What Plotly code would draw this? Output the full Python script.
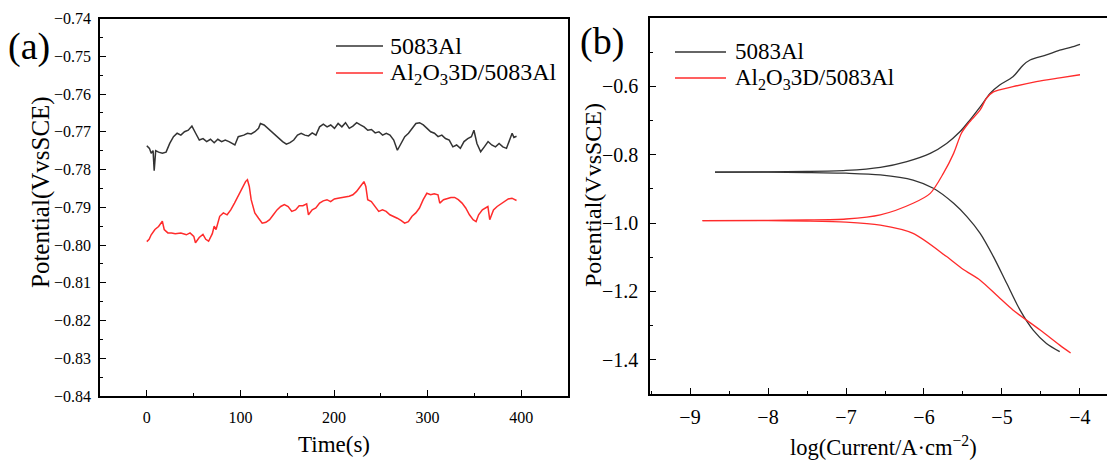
import plotly.graph_objects as go

# ---------------- (a) open-circuit potential vs time ----------------
t_5083 = [0, 2.8, 4.7, 6.7, 7.9, 9.5, 12.6, 16.6, 20.6, 24.5, 28.5, 32.4, 36.4, 40.3, 44.3,
          48.2, 52.2, 56.1, 60.1, 64, 68, 72, 75.9, 79.9, 83.8, 87.8, 94.1, 97.7, 103.6,
          107.6, 111.5, 115.5, 119.4, 121.4, 125.3, 129.3, 133.3, 137.2, 141.2, 145.1,
          149.1, 153, 157, 161, 164.9, 168.9, 172.8, 176.7, 180.7, 184.6, 188.6, 192.6,
          196.5, 200.5, 204.4, 208.4, 212.3, 216.3, 220.2, 224.2, 228.2, 232.1, 236.1,
          240, 244, 248, 251.9, 255.9, 259.8, 263.8, 267.7, 271.6, 275.6, 279.6, 283.5,
          287.5, 291.4, 295.4, 299.4, 303.3, 307.3, 311.2, 315.2, 319.1, 323.1, 327, 331,
          335, 338.9, 342.9, 346.8, 349.5, 352.7, 356.7, 360.6, 364.6, 368.5, 372.5,
          376.4, 380.4, 384.3, 388.3, 390.3, 392.2, 395]
v_5083 = [-0.7737, -0.7744, -0.7757, -0.7750, -0.7803, -0.7750, -0.7754, -0.7757, -0.7754,
          -0.7731, -0.7713, -0.7704, -0.7709, -0.7700, -0.7696, -0.7685, -0.7704, -0.7722,
          -0.7718, -0.7726, -0.7720, -0.7729, -0.7720, -0.7726, -0.7722, -0.7726, -0.7735,
          -0.7713, -0.7709, -0.7704, -0.7706, -0.7700, -0.7691, -0.7678, -0.7682, -0.7691,
          -0.7700, -0.7709, -0.7718, -0.7726, -0.7733, -0.7729, -0.7722, -0.7709, -0.7704,
          -0.7709, -0.7711, -0.7703, -0.7709, -0.7687, -0.7680, -0.7687, -0.7682, -0.7691,
          -0.7678, -0.7687, -0.7676, -0.7691, -0.7685, -0.7676, -0.7682, -0.7687, -0.7696,
          -0.7694, -0.7703, -0.7700, -0.7709, -0.7704, -0.7709, -0.7722, -0.7749, -0.7731,
          -0.7713, -0.7704, -0.7691, -0.7678, -0.7676, -0.7682, -0.7691, -0.7700, -0.7704,
          -0.7713, -0.7709, -0.7718, -0.7722, -0.7740, -0.7735, -0.7744, -0.7726, -0.7718,
          -0.7713, -0.7696, -0.7731, -0.7753, -0.7740, -0.7726, -0.7735, -0.7740, -0.7731,
          -0.7740, -0.7744, -0.7713, -0.7704, -0.7715, -0.7712]

t_al2o3 = [0, 2.5, 4.7, 8.7, 12.6, 16.6, 18.6, 22.5, 26.5, 30.4, 36.4, 42.3, 46.2, 50.2,
           52, 56, 60, 63, 66, 70, 72, 74, 77.9, 81.8, 85.8, 89.7, 93.7, 97.6, 101.6,
           105.5, 107.5, 109.5, 111.5, 115.4, 119.4, 123.3, 127.3, 131.2, 135.2, 139.1,
           143.1, 147, 151, 154.9, 158.9, 162.8, 166.8, 170.8, 172.7, 176.7, 180.6, 184.6,
           188.5, 192.5, 196.4, 200.4, 204.3, 208.3, 212.3, 216.2, 220.2, 224.1, 228.1,
           232, 234, 236, 239.9, 243.9, 247.8, 251.8, 255.7, 259.7, 263.6, 267.6, 271.5,
           275.5, 279.4, 283.4, 287.4, 291.3, 295.3, 299.2, 303.2, 307.1, 311.1, 313, 317,
           321, 324.9, 328.9, 332.8, 336.8, 340.7, 344.7, 348.6, 351.8, 354.5, 358.5,
           362.5, 364.4, 366.4, 370.4, 374.3, 378.3, 382.2, 386.2, 390.1, 392.9, 395]
v_al2o3 = [-0.7991, -0.7985, -0.7973, -0.7959, -0.7951, -0.7937, -0.7959, -0.7968, -0.7968,
           -0.7970, -0.7968, -0.7973, -0.7968, -0.7977, -0.7994, -0.7980, -0.7972, -0.7985,
           -0.7990, -0.7970, -0.7950, -0.7959, -0.7924, -0.7915, -0.7920, -0.7907, -0.7889,
           -0.7871, -0.7854, -0.7832, -0.7827, -0.7845, -0.7880, -0.7915, -0.7929, -0.7942,
           -0.7940, -0.7933, -0.7920, -0.7907, -0.7898, -0.7893, -0.7898, -0.7911, -0.7907,
           -0.7896, -0.7896, -0.7891, -0.7920, -0.7907, -0.7902, -0.7889, -0.7883, -0.7880,
           -0.7885, -0.7878, -0.7876, -0.7874, -0.7874, -0.7871, -0.7867, -0.7858, -0.7845,
           -0.7832, -0.7845, -0.7880, -0.7885, -0.7898, -0.7911, -0.7907, -0.7911, -0.7920,
           -0.7924, -0.7929, -0.7935, -0.7942, -0.7938, -0.7924, -0.7915, -0.7902, -0.7880,
           -0.7863, -0.7867, -0.7864, -0.7867, -0.7889, -0.7880, -0.7876, -0.7874, -0.7874,
           -0.7880, -0.7889, -0.7902, -0.7920, -0.7933, -0.7938, -0.7920, -0.7907, -0.7900,
           -0.7898, -0.7933, -0.7907, -0.7898, -0.7891, -0.7885, -0.7878, -0.7876, -0.7880,
           -0.7882]

# ---------------- (b) polarization curves ----------------
# cathodic branches (from corrosion potential outward)
logi_5083_cath = [-8.68, -8.0, -7.5, -7.0, -6.56, -6.14, -5.88, -5.62, -5.45, -5.28, -5.11,
                  -4.94, -4.77, -4.60, -4.43, -4.26]
e_5083_cath = [-0.851, -0.851, -0.852, -0.854, -0.859, -0.874, -0.898, -0.942, -0.981,
               -1.030, -1.098, -1.176, -1.254, -1.313, -1.352, -1.376]
# anodic branches
logi_5083_anod = [-8.68, -8.0, -7.5, -7.0, -6.56, -6.22, -5.92, -5.71, -5.54, -5.41, -5.28,
                  -5.15, -5.03, -4.86, -4.73, -4.64, -4.43, -4.26, -4.12, -4.0]
e_5083_anod = [-0.851, -0.850, -0.849, -0.846, -0.837, -0.820, -0.796, -0.767, -0.733,
               -0.698, -0.660, -0.620, -0.596, -0.572, -0.538, -0.523, -0.508, -0.494,
               -0.486, -0.477]

logi_al2o3_cath = [-8.84, -8.0, -7.5, -7.0, -6.56, -6.14, -5.71, -5.50, -5.28, -5.05, -4.86,
                   -4.51, -4.26, -4.12]
e_al2o3_cath = [-0.993, -0.993, -0.994, -0.997, -1.006, -1.030, -1.098, -1.135, -1.167,
                -1.215, -1.254, -1.313, -1.357, -1.380]
logi_al2o3_anod = [-8.84, -8.0, -7.5, -7.0, -6.56, -6.14, -5.92, -5.75, -5.62, -5.52, -5.43,
                   -5.28, -5.20, -5.11, -4.86, -4.56, -4.26, -4.0]
e_al2o3_anod = [-0.993, -0.992, -0.991, -0.988, -0.976, -0.942, -0.913, -0.854, -0.796,
                -0.737, -0.708, -0.669, -0.635, -0.616, -0.601, -0.586, -0.575, -0.566]

name_5083 = "5083Al"
name_al2o3 = "Al<sub>2</sub>O<sub>3</sub>3D/5083Al"

BLACK = "#333333"
RED = "#ff2b2b"
FONT = "Liberation Serif"

# page body has an 8 px margin; figure is sized/placed to compensate
OFF = 8
W, H = 1115 - OFF, 464 - OFF


def px(x):
    return (x - OFF) / W


def py(y):
    return 1 - (y - OFF) / H


fig = go.Figure()
fig.add_trace(go.Scatter(x=t_5083, y=v_5083, mode="lines", name=name_5083, showlegend=False,
                         line=dict(color=BLACK, width=1.5), xaxis="x", yaxis="y"))
fig.add_trace(go.Scatter(x=t_al2o3, y=v_al2o3, mode="lines", name=name_al2o3, showlegend=False,
                         line=dict(color=RED, width=1.5), xaxis="x", yaxis="y"))
for xs, ys, col, nm in [(logi_5083_cath, e_5083_cath, BLACK, name_5083),
                        (logi_5083_anod, e_5083_anod, BLACK, name_5083),
                        (logi_al2o3_cath, e_al2o3_cath, RED, name_al2o3),
                        (logi_al2o3_anod, e_al2o3_anod, RED, name_al2o3)]:
    fig.add_trace(go.Scatter(x=xs, y=ys, mode="lines", name=nm, showlegend=False,
                             line=dict(color=col, width=1.3, shape="spline", smoothing=0.8),
                             xaxis="x2", yaxis="y2"))

axis_common = dict(showline=True, linecolor="black", linewidth=1.5, ticks="inside",
                   ticklen=6, tickwidth=1.3, tickcolor="black", showgrid=False,
                   zeroline=False, automargin=False)


def ann(text, x, y, size, angle=0, xanchor="center"):
    return dict(text=text, x=px(x), y=py(y), xref="paper", yref="paper", showarrow=False,
                xanchor=xanchor, yanchor="middle", textangle=angle,
                font=dict(size=size, family=FONT, color="black"))


def legend_line(x0, x1, y, col):
    return dict(type="line", xref="paper", yref="paper", x0=px(x0), x1=px(x1),
                y0=py(y), y1=py(y), line=dict(color=col, width=1.5))


fig.update_layout(
    width=W, height=H,
    margin=dict(l=0, r=0, t=0, b=0),
    paper_bgcolor="white", plot_bgcolor="white",
    font=dict(family=FONT, color="black"),
    showlegend=False,
    xaxis=dict(**axis_common, domain=[px(100), px(568)], range=[-50, 450], mirror=True,
               tickvals=[0, 100, 200, 300, 400],
               minor=dict(dtick=50, ticks="inside", ticklen=3, tickcolor="black"),
               tickfont=dict(size=16, family=FONT), anchor="y", ticklabelstandoff=6),
    yaxis=dict(**axis_common, domain=[py(396), py(18.5)], range=[-0.84, -0.74],
               mirror=True, dtick=0.01, tickformat=".2f",
               minor=dict(dtick=0.005, ticks="inside", ticklen=3, tickcolor="black"),
               tickfont=dict(size=16, family=FONT), anchor="x", ticklabelstandoff=4),
    xaxis2=dict(**axis_common, domain=[px(650), 1.0], range=[-9.513, -3.551], mirror=True,
                dtick=1, tick0=-9,
                minor=dict(dtick=0.5, ticks="inside", ticklen=3, tickcolor="black"),
                tickfont=dict(size=20, family=FONT), anchor="y2", ticklabelstandoff=4),
    yaxis2=dict(**axis_common, domain=[py(394), py(18)], range=[-1.5, -0.4],
                mirror=False, dtick=0.2, tick0=-1.4, tickformat=".1f",
                minor=dict(dtick=0.1, ticks="inside", ticklen=3, tickcolor="black"),
                tickfont=dict(size=20, family=FONT), anchor="x2", ticklabelstandoff=6),
    shapes=[
        legend_line(336, 383, 46, BLACK),
        legend_line(336, 383, 73, RED),
        legend_line(675, 726, 52, BLACK),
        legend_line(675, 726, 78, RED),
    ],
    annotations=[
        ann(name_5083, 388, 46, 24, xanchor="left"),
        ann(name_al2o3, 388, 74, 24, xanchor="left"),
        ann(name_5083, 733, 52, 23, xanchor="left"),
        ann(name_al2o3, 733, 79, 23, xanchor="left"),
        ann("(a)", 29, 46, 38),
        ann("(b)", 602, 41, 38),
        ann("Time(s)", 334, 444, 23),
        ann("log(Current/A·cm<sup>−2</sup>)", 883, 446, 22.5),
        ann("Potential(VvsSCE)", 41, 192, 25, -90),
        ann("Potential(VvsSCE)", 593, 195, 24, -90),
    ],
)

fig.write_html("out.html")
